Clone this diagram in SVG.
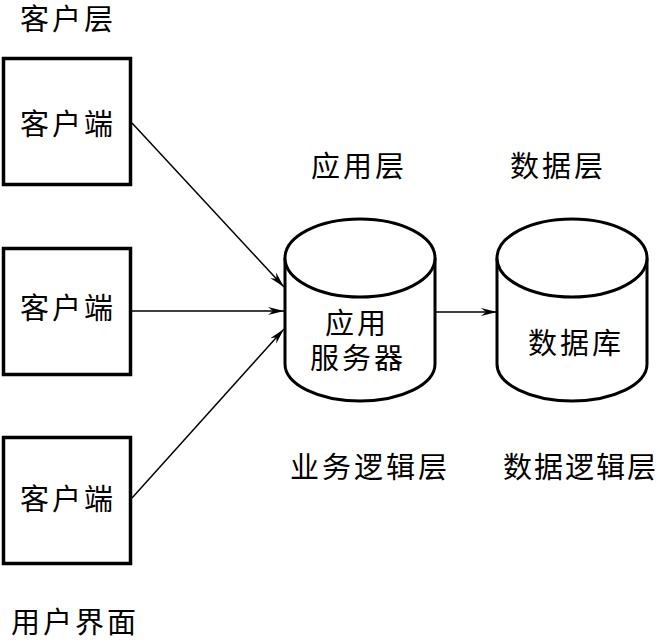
<svg xmlns="http://www.w3.org/2000/svg" width="660" height="642" viewBox="0 0 660 642">
<style>
.t{font-family:"Noto Sans CJK SC","Noto Sans",sans-serif;font-size:29px;letter-spacing:3px;fill:#000}
.box{fill:#fff;stroke:#000;stroke-width:3.5}
.cyl{fill:#fff;stroke:#000;stroke-width:3}
.con{stroke:#000;stroke-width:1.5;fill:none;marker-end:url(#ah)}
</style>
<defs>
<marker id="ah" markerWidth="18" markerHeight="10" refX="16" refY="5" orient="auto" markerUnits="userSpaceOnUse">
<path d="M0,1 L16,5 L0,9 L5,5 Z" fill="#000"/>
</marker>
</defs>
<rect width="660" height="642" fill="#fff"/>
<g id="labels">
<text class="t" x="20" y="30">客户层</text>
<text class="t" x="311" y="177">应用层</text>
<text class="t" x="510" y="177">数据层</text>
<text class="t" x="290" y="478">业务逻辑层</text>
<text class="t" x="503" y="478" style="letter-spacing:2px">数据逻辑层</text>
<text class="t" x="11" y="633">用户界面</text>
</g>
<g id="client1">
<rect class="box" x="3.5" y="58.5" width="127" height="126"/>
<text class="t" x="20" y="135">客户端</text>
</g>
<g id="client2">
<rect class="box" x="3.5" y="248.5" width="127" height="126"/>
<text class="t" x="20" y="319">客户端</text>
</g>
<g id="client3">
<rect class="box" x="3.5" y="437.5" width="127" height="126"/>
<text class="t" x="20" y="510">客户端</text>
</g>
<g id="appserver">
<path class="cyl" d="M285,258 A75,39 0 0 1 435,258 L435,364 A75,37 0 0 1 285,364 Z"/>
<path class="cyl" d="M285,258 A75,39 0 0 0 435,258"/>
<text class="t" x="325" y="334">应用</text>
<text class="t" x="310" y="369">服务器</text>
</g>
<g id="database">
<path class="cyl" d="M497,258 A75,39 0 0 1 647,258 L647,364 A75,37 0 0 1 497,364 Z"/>
<path class="cyl" d="M497,258 A75,39 0 0 0 647,258"/>
<text class="t" x="528" y="354">数据库</text>
</g>
<g id="connectors">
<line class="con" x1="132" y1="123" x2="284" y2="287"/>
<line class="con" x1="132" y1="311" x2="284" y2="311"/>
<line class="con" x1="132" y1="498" x2="284" y2="329"/>
<line class="con" x1="435" y1="312" x2="497" y2="312"/>
</g>
</svg>
